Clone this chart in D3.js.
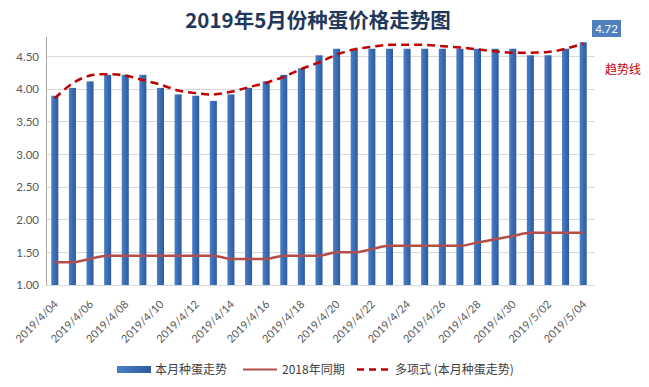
<!DOCTYPE html>
<html><head><meta charset="utf-8">
<script src="https://cdn.jsdelivr.net/npm/d3@7/dist/d3.min.js"></script>
<style>body{margin:0;background:#fff}svg{display:block}</style></head>
<body><svg id="c" width="649" height="387"></svg>
<script>
const dates = ["2019/4/04","2019/4/05","2019/4/06","2019/4/07","2019/4/08","2019/4/09","2019/4/10","2019/4/11","2019/4/12","2019/4/13","2019/4/14","2019/4/15","2019/4/16","2019/4/17","2019/4/18","2019/4/19","2019/4/20","2019/4/21","2019/4/22","2019/4/23","2019/4/24","2019/4/25","2019/4/26","2019/4/27","2019/4/28","2019/4/29","2019/4/30","2019/5/01","2019/5/02","2019/5/03","2019/5/04"];
const thisMonth = [3.90,4.02,4.12,4.22,4.22,4.22,4.02,3.92,3.90,3.82,3.92,4.02,4.12,4.22,4.32,4.52,4.62,4.62,4.62,4.62,4.62,4.62,4.62,4.62,4.62,4.62,4.62,4.52,4.52,4.62,4.72];
const lastYear = [1.35,1.35,1.40,1.45,1.45,1.45,1.45,1.45,1.45,1.45,1.40,1.40,1.40,1.45,1.45,1.45,1.50,1.50,1.55,1.60,1.60,1.60,1.60,1.60,1.65,1.70,1.75,1.80,1.80,1.80,1.80];
const trend = [3.86,4.09,4.21,4.23,4.21,4.14,4.07,3.98,3.94,3.92,3.96,4.03,4.10,4.19,4.31,4.41,4.53,4.61,4.65,4.68,4.68,4.68,4.66,4.64,4.61,4.58,4.56,4.56,4.57,4.62,4.70];
const yTicks = [1.00,1.50,2.00,2.50,3.00,3.50,4.00,4.50];
const title = "2019年5月份种蛋价格走势图";
const legendLabels = ["本月种蛋走势","2018年同期","多项式 (本月种蛋走势)"];
const lastLabel = "4.72";
const trendLabel = "趋势线";

const svg = d3.select("#c");
const L = 46, R = 592, T = 37, B = 285;
const x = d3.scaleBand().domain(dates).range([L, R]).paddingInner(0.6).paddingOuter(0.3);
const y = d3.scaleLinear().domain([1, 4.8]).range([B, T]);
const cx = d => x(d) + x.bandwidth()/2;
const numFont = "Lato, 'Noto Sans', sans-serif";
const cjkFont = "'Noto Sans CJK SC', sans-serif";

const defs = svg.append("defs");
const g1 = defs.append("linearGradient").attr("id","bg").attr("x1","0").attr("x2","1").attr("y1","0").attr("y2","0");
g1.append("stop").attr("offset","0").attr("stop-color","#4a7fc6");
g1.append("stop").attr("offset","0.5").attr("stop-color","#3a6cb4");
g1.append("stop").attr("offset","1").attr("stop-color","#2d5a9c");

// gridlines
svg.append("g").selectAll("line").data(yTicks.filter(v=>v>1)).join("line")
  .attr("x1", L).attr("x2", 595).attr("y1", d=>y(d)).attr("y2", d=>y(d))
  .attr("stroke", "#d9d9d9").attr("stroke-width", 1).attr("shape-rendering","crispEdges");

// y axis
const ya = svg.append("g").attr("transform", `translate(${L},0)`)
  .call(d3.axisLeft(y).tickValues(yTicks).tickFormat(d3.format(".2f")).tickSize(0).tickPadding(7));
ya.select(".domain").remove();
ya.selectAll("text").attr("font-family", numFont).attr("font-size", 11.5).attr("fill", "#595959");
svg.append("line").attr("x1", L).attr("x2", L).attr("y1", T).attr("y2", B)
  .attr("stroke", "#a6a6a6").attr("shape-rendering","crispEdges");

// bars
svg.append("g").selectAll("rect").data(dates).join("rect")
  .attr("x", d=>x(d)).attr("width", x.bandwidth())
  .attr("y", (d,i)=>y(thisMonth[i])).attr("height", (d,i)=>B - y(thisMonth[i]))
  .attr("fill", "url(#bg)");

// x axis
svg.append("line").attr("x1", L).attr("x2", 595).attr("y1", B+0.5).attr("y2", B+0.5)
  .attr("stroke", "#d9d9d9");
const xa = svg.append("g").attr("transform", `translate(0,${B})`)
  .call(d3.axisBottom(x).tickValues(dates.filter((d,i)=>i%2===0)).tickSize(0).tickPadding(0));
xa.select(".domain").remove();
xa.selectAll("text")
  .attr("font-family", numFont).attr("font-size", 11).attr("fill", "#595959")
  .attr("text-anchor", "end").attr("dy", 0).attr("y", 0)
  .attr("transform", "translate(4,20) rotate(-45)");

// last year line
svg.append("path").datum(lastYear)
  .attr("d", d3.line().x((v,i)=>cx(dates[i])).y(v=>y(v)).curve(d3.curveMonotoneX))
  .attr("fill","none").attr("stroke","#b24e4c").attr("stroke-width",2.5);

// trend line
svg.append("path").datum(trend)
  .attr("d", d3.line().x((v,i)=>cx(dates[i])).y(v=>y(v)).curve(d3.curveCatmullRom))
  .attr("fill","none").attr("stroke","#c00000").attr("stroke-width",2.5)
  .attr("stroke-dasharray","8,5");

// title
svg.append("text").attr("x", 318).attr("y", 28).attr("text-anchor","middle")
  .attr("font-family", cjkFont).attr("font-weight", "bold").attr("font-size", 20.5)
  .attr("fill", "#22385a").text(title);

// last value label
svg.append("rect").attr("x", 592).attr("y", 20).attr("width", 29).attr("height", 17).attr("fill", "#4f7fbd");
svg.append("text").attr("x", 606.5).attr("y", 32.5).attr("text-anchor","middle")
  .attr("font-family", numFont).attr("font-size", 11.5).attr("fill", "#fff").text(lastLabel);

// trend label
svg.append("text").attr("x", 605).attr("y", 74).attr("font-family", cjkFont)
  .attr("font-size", 12).attr("fill", "#c00000").text(trendLabel);

// legend
const lg = svg.append("g").attr("font-family", cjkFont).attr("font-size", 12).attr("fill", "#404040");
lg.append("rect").attr("x", 117).attr("y", 366).attr("width", 34).attr("height", 7).attr("fill", "url(#bg)");
lg.append("text").attr("x", 155).attr("y", 374).text(legendLabels[0]);
lg.append("line").attr("x1", 243).attr("x2", 277).attr("y1", 369.5).attr("y2", 369.5).attr("stroke", "#b24e4c").attr("stroke-width", 2);
lg.append("text").attr("x", 282).attr("y", 374).text(legendLabels[1]);
lg.append("line").attr("x1", 357).attr("x2", 392).attr("y1", 369.5).attr("y2", 369.5).attr("stroke", "#c00000").attr("stroke-width", 2.5).attr("stroke-dasharray","7,5");
lg.append("text").attr("x", 395).attr("y", 374).text(legendLabels[2]);
</script></body></html>
